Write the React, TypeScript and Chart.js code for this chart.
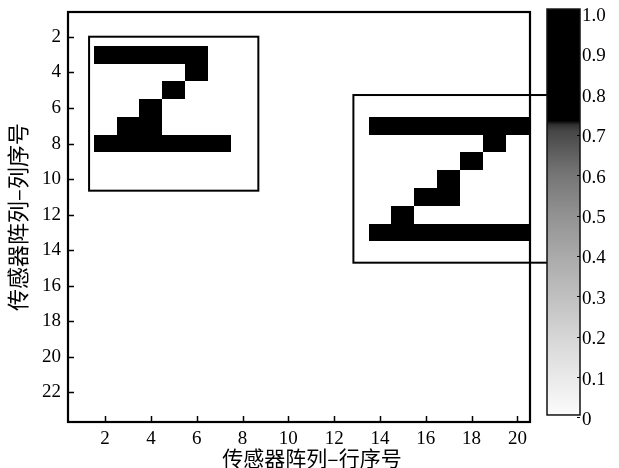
import React, { useEffect, useRef } from 'react';
import { Chart, registerables } from 'chart.js';

Chart.register(...registerables);

// ---- data ----
const xTicks = [2, 4, 6, 8, 10, 12, 14, 16, 18, 20];
const yTicks = [2, 4, 6, 8, 10, 12, 14, 16, 18, 20, 22];
const cbTicks = [0, 0.1, 0.2, 0.3, 0.4, 0.5, 0.6, 0.7, 0.8, 0.9, 1.0];
const cbLabels = ['0', '0.1', '0.2', '0.3', '0.4', '0.5', '0.6', '0.7', '0.8', '0.9', '1.0'];

// left "Z": per row, first and last active column (value 1)
const zLeftRows = [3, 4, 5, 6, 7, 8];
const zLeftFrom = [2, 6, 5, 4, 3, 2];
const zLeftTo = [6, 6, 5, 4, 4, 7];
// right "Z"
const zRightRows = [7, 8, 9, 10, 11, 12, 13];
const zRightFrom = [14, 19, 18, 17, 16, 15, 14];
const zRightTo = [20, 19, 18, 17, 17, 15, 20];
const activeValue = 1;

// outline boxes (data units): x0, x1, y0, y1
const boxX0 = [1.3, 12.84];
const boxX1 = [8.69, 21.34];
const boxY0 = [1.99, 5.27];
const boxY1 = [10.65, 14.7];

const xTitle = '传感器阵列–行序号';
const yTitle = '传感器阵列–列序号';

const W = 619;
const H = 468;

const cmapStops: [number, number][] = [
  [0, 252], [0.1, 232], [0.2, 212], [0.3, 190], [0.4, 168], [0.5, 144],
  [0.6, 115], [0.7, 70], [0.715, 48], [0.725, 0], [1, 0],
];

function grayFor(v: number): string {
  for (let i = 1; i < cmapStops.length; i++) {
    const [a, ga] = cmapStops[i - 1];
    const [b, gb] = cmapStops[i];
    if (v <= b) {
      const t = b === a ? 1 : (v - a) / (b - a);
      const g = Math.round(ga + (gb - ga) * t);
      return `rgb(${g},${g},${g})`;
    }
  }
  return 'rgb(0,0,0)';
}

function buildCells() {
  const cells: { x: number; y: number; v: number }[] = [];
  const add = (rows: number[], from: number[], to: number[]) => {
    rows.forEach((r, i) => {
      for (let c = from[i]; c <= to[i]; c++) cells.push({ x: c, y: r, v: activeValue });
    });
  };
  add(zLeftRows, zLeftFrom, zLeftTo);
  add(zRightRows, zRightFrom, zRightTo);
  return cells;
}

const heatPlugin = {
  id: 'heatmapDraw',
  beforeDatasetsDraw(chart: any) {
    const { ctx, scales } = chart;
    const x = scales.x;
    const y = scales.y;
    ctx.save();
    for (const p of chart.data.datasets[0].data as any[]) {
      const xa = Math.round(x.getPixelForValue(p.x - 0.5));
      const xb = Math.round(x.getPixelForValue(p.x + 0.5));
      const ya = Math.round(y.getPixelForValue(p.y - 0.5));
      const yb = Math.round(y.getPixelForValue(p.y + 0.5));
      ctx.fillStyle = grayFor(p.v);
      ctx.fillRect(Math.min(xa, xb), Math.min(ya, yb), Math.abs(xb - xa), Math.abs(yb - ya));
    }
    ctx.restore();
  },
  afterDraw(chart: any) {
    const { ctx, chartArea: ca, scales } = chart;
    const x = scales.x;
    const y = scales.y;
    const cb = scales.cb;
    ctx.save();
    ctx.strokeStyle = '#000';
    ctx.lineCap = 'butt';

    // outline boxes
    ctx.lineWidth = 2;
    for (let i = 0; i < boxX0.length; i++) {
      const px0 = x.getPixelForValue(boxX0[i]);
      const px1 = x.getPixelForValue(boxX1[i]);
      const py0 = y.getPixelForValue(boxY0[i]);
      const py1 = y.getPixelForValue(boxY1[i]);
      ctx.strokeRect(px0, py0, px1 - px0, py1 - py0);
    }

    // frame
    ctx.lineWidth = 2.2;
    ctx.strokeRect(ca.left, ca.top, ca.right - ca.left, ca.bottom - ca.top);

    // inward ticks
    ctx.lineWidth = 1.5;
    ctx.beginPath();
    for (const v of xTicks) {
      const px = Math.round(x.getPixelForValue(v)) + 0.5;
      ctx.moveTo(px, ca.bottom);
      ctx.lineTo(px, ca.bottom - 6);
    }
    for (const v of yTicks) {
      const py = Math.round(y.getPixelForValue(v)) + 0.5;
      ctx.moveTo(ca.left, py);
      ctx.lineTo(ca.left + 6, py);
    }
    ctx.stroke();

    // colorbar
    const barTop = cb.getPixelForValue(1) - 7;
    const barBot = cb.getPixelForValue(0) - 5;
    const bx0 = ca.right + 17;
    const bx1 = ca.right + 50;
    const grad = ctx.createLinearGradient(0, barBot, 0, barTop);
    for (const [v, g] of cmapStops) grad.addColorStop(v, `rgb(${g},${g},${g})`);
    ctx.fillStyle = grad;
    ctx.fillRect(bx0, barTop, bx1 - bx0, barBot - barTop);
    ctx.lineWidth = 1.5;
    ctx.strokeStyle = '#111';
    ctx.strokeRect(bx0, barTop, bx1 - bx0, barBot - barTop);
    ctx.lineWidth = 1.2;
    ctx.strokeStyle = '#000';
    ctx.beginPath();
    for (const v of cbTicks) {
      const py = Math.round(cb.getPixelForValue(v) - 2.5) + 0.5;
      ctx.moveTo(bx1 - 3, py);
      ctx.lineTo(bx1, py);
    }
    ctx.stroke();

    // axis titles
    ctx.fillStyle = '#000';
    ctx.font = '21px "Noto Sans CJK SC"';
    ctx.textAlign = 'center';
    ctx.textBaseline = 'middle';
    ctx.fillText(xTitle, (ca.left + ca.right) / 2 + 13, 458);
    ctx.translate(18, 217);
    ctx.rotate(-Math.PI / 2);
    ctx.font = '22px "Noto Sans CJK SC"';
    ctx.fillText(yTitle, 0, 0);
    ctx.restore();
  },
};

const tickFont = { family: '"Liberation Serif", "Times New Roman", serif', size: 19 };

function zeroPad(s: any) {
  s.paddingTop = 0;
  s.paddingBottom = 0;
  s.paddingLeft = 0;
  s.paddingRight = 0;
}

export default function App() {
  const ref = useRef<HTMLCanvasElement>(null);
  useEffect(() => {
    const canvas = ref.current!;
    const chart = new Chart(canvas, {
      type: 'scatter',
      data: {
        datasets: [
          {
            data: buildCells() as any,
            pointRadius: 0,
            pointHoverRadius: 0,
          },
        ],
      },
      options: {
        responsive: false,
        animation: false,
        devicePixelRatio: 1,
        events: [],
        layout: { padding: { top: 12, left: 0, right: 0, bottom: 0 } },
        plugins: {
          legend: { display: false },
          tooltip: { enabled: false },
        },
        scales: {
          x: {
            type: 'linear',
            position: 'bottom',
            min: 0.38,
            max: 20.55,
            grid: { display: false, drawTicks: false },
            border: { display: false },
            afterBuildTicks: (s: any) => {
              s.ticks = xTicks.map((v) => ({ value: v }));
            },
            afterFit: (s: any) => {
              s.height = 46;
              zeroPad(s);
            },
            ticks: {
              color: '#000',
              font: tickFont,
              padding: 6,
              autoSkip: false,
              maxRotation: 0,
              minRotation: 0,
              callback: (v: any) => String(v),
            },
          },
          y: {
            type: 'linear',
            position: 'left',
            reverse: true,
            min: 0.6,
            max: 23.66,
            grid: { display: false, drawTicks: false },
            border: { display: false },
            afterBuildTicks: (s: any) => {
              s.ticks = yTicks.map((v) => ({ value: v }));
            },
            afterFit: (s: any) => {
              s.width = 68;
              zeroPad(s);
            },
            ticks: {
              color: '#000',
              font: tickFont,
              padding: 7,
              autoSkip: false,
              callback: (v: any) => String(v),
            },
          },
          cb: {
            type: 'linear',
            position: 'right',
            min: -0.005,
            max: 1.01,
            grid: { display: false, drawTicks: false },
            border: { display: false },
            afterBuildTicks: (s: any) => {
              s.ticks = cbTicks.map((v) => ({ value: v }));
            },
            afterFit: (s: any) => {
              s.width = 89;
              zeroPad(s);
            },
            ticks: {
              color: '#000',
              font: tickFont,
              padding: 52,
              autoSkip: false,
              callback: (_v: any, i: number) => cbLabels[i],
            },
          },
        },
      } as any,
      plugins: [heatPlugin],
    });
    return () => chart.destroy();
  }, []);
  return (
    <div style={{ position: 'fixed', left: 0, top: 0, width: W, height: H, background: '#fff' }}>
      <canvas ref={ref} width={W} height={H} style={{ display: 'block' }} />
    </div>
  );
}
